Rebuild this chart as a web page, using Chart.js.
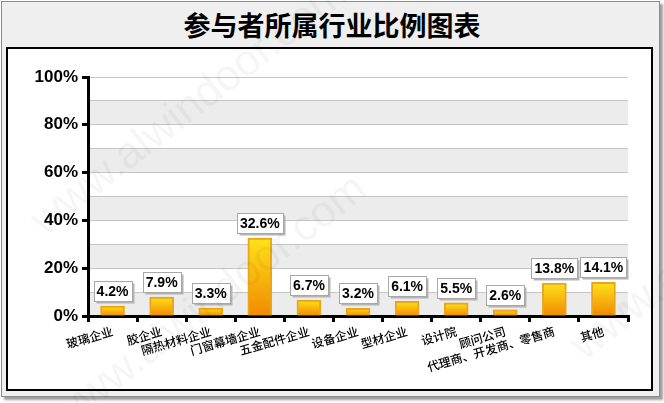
<!DOCTYPE html>
<html>
<head>
<meta charset="utf-8">
<script src="https://cdn.jsdelivr.net/npm/chart.js@4"></script>
<style>
  html, body { margin: 0; padding: 0; background: #fff; }
  body { width: 664px; height: 403px; position: relative; overflow: hidden; }
  #panel {
    position: absolute; left: 1px; top: 1px; width: 657px; height: 394px;
    background: #efefef; border: 1px solid #8c8c8c;
    box-shadow: 3px 3px 2px #a0a0a0;
  }
  #title {
    position: absolute; left: 0; top: 8px; width: 664px; text-align: center;
    font: bold 27px "Noto Sans CJK SC", sans-serif; line-height: 34px; color: #000;
  }
  #box {
    position: absolute; left: 6px; top: 47px; width: 643px; height: 340px;
    background: #fff; border: 2px solid #000;
  }
  #wrap { position: absolute; left: 0; top: 0; width: 643px; height: 340px; }
  .wm {
    position: absolute; font: 44px "Liberation Sans", Arial, sans-serif;
    color: rgba(0,0,0,0.04); transform-origin: 0 0; transform: rotate(-38deg);
    white-space: nowrap; pointer-events: none;
  }
</style>
</head>
<body>
<div id="panel"></div>
<div id="title">参与者所属行业比例图表</div>
<div id="box"><div id="wrap"><canvas id="barChart"></canvas></div></div>
<div class="wm" style="left:20px; top:205px;">www.alwindoor.com</div>
<div class="wm" style="left:40px; top:400px;">www.alwindoor.com</div>
<div class="wm" style="left:560px; top:330px;">www.alwindoor.com</div>
<script>
const categories = ['玻璃企业', '胶企业', '隔热材料企业', '门窗幕墙企业', '五金配件企业', '设备企业',
  '型材企业', '设计院', '顾问公司', '代理商、开发商、零售商', '其他'];
const shares = [4.2, 7.9, 3.3, 32.6, 6.7, 3.2, 6.1, 5.5, 2.6, 13.8, 14.1];
const yTicks = [0, 20, 40, 60, 80, 100];
const bands = [[0, 10], [20, 30], [40, 50], [60, 70], [80, 90]];

// gray bands behind the grid
const bandPlugin = {
  id: 'bands',
  beforeDraw(chart) {
    const { ctx, chartArea: a, scales: { y } } = chart;
    ctx.save();
    ctx.fillStyle = '#ececec';
    bands.forEach(([lo, hi]) => {
      const top = y.getPixelForValue(hi), bot = y.getPixelForValue(lo);
      ctx.fillRect(a.left, top, a.right - a.left, bot - top);
    });
    ctx.restore();
  }
};

// white boxes with the value above each bar
const labelPlugin = {
  id: 'valueBoxes',
  afterDatasetsDraw(chart) {
    const { ctx } = chart;
    const meta = chart.getDatasetMeta(0);
    ctx.save();
    ctx.font = 'bold 14px "Liberation Sans", Arial, sans-serif';
    ctx.textAlign = 'center';
    ctx.textBaseline = 'middle';
    meta.data.forEach((bar, i) => {
      const txt = shares[i].toFixed(1) + '%';
      const w = Math.round(ctx.measureText(txt).width) + 6;
      const h = 20;
      const x = Math.round(bar.x - w / 2) + 0.5;
      const yb = Math.round(bar.y - 5) + 0.5;
      ctx.fillStyle = '#b4b4b4';
      ctx.fillRect(x + 2, yb - h + 2, w, h);
      ctx.fillStyle = '#fff';
      ctx.fillRect(x, yb - h, w, h);
      ctx.strokeStyle = '#a8a8a8';
      ctx.lineWidth = 1;
      ctx.strokeRect(x, yb - h, w, h);
      ctx.fillStyle = '#000';
      ctx.fillText(txt, bar.x, yb - h / 2 + 1);
    });
    ctx.restore();
  }
};

function barFill(c) {
  const chart = c.chart;
  if (!chart.chartArea || c.dataIndex === undefined) return '#f5b400';
  const y = chart.scales.y;
  const top = y.getPixelForValue(shares[c.dataIndex]);
  const bot = y.getPixelForValue(0);
  const g = chart.ctx.createLinearGradient(0, top, 0, bot);
  g.addColorStop(0, '#ffe21a');
  g.addColorStop(1, '#f08a00');
  return g;
}

new Chart(document.getElementById('barChart'), {
  type: 'bar',
  data: {
    labels: categories,
    datasets: [{
      data: shares,
      backgroundColor: barFill,
      borderColor: '#eaa51a',
      borderWidth: 2,
      borderSkipped: 'bottom',
      barThickness: 24
    }]
  },
  options: {
    responsive: true,
    maintainAspectRatio: false,
    animation: false,
    layout: { padding: { top: 28, right: 23, left: 0, bottom: 0 } },
    plugins: { legend: { display: false }, tooltip: { enabled: false } },
    scales: {
      x: {
        grid: { offset: true, drawOnChartArea: false, color: '#000', lineWidth: 3, tickLength: 6 },
        border: { color: '#000', width: 3 },
        ticks: {
          autoSkip: false, maxRotation: 16, minRotation: 16, padding: 2, color: '#000',
          font: { family: '"Noto Sans CJK SC", sans-serif', size: 12, weight: 500 }
        },
        afterFit(s) { s.height = 73; }
      },
      y: {
        min: 0, max: 100,
        grid: {
          color: c => c.tick && c.tick.value === 0 ? 'transparent' : '#c6c6c6',
          lineWidth: 1,
          tickLength: 6,
          tickWidth: 3,
          tickColor: c => yTicks.includes(c.tick && c.tick.value) ? '#000' : 'transparent'
        },
        border: { color: '#000', width: 3 },
        ticks: {
          stepSize: 10, padding: 4, color: '#000',
          font: { family: '"Liberation Sans", Arial, sans-serif', size: 17, weight: 'bold' },
          callback: v => yTicks.includes(v) ? v + '%' : ''
        },
        afterFit(s) { s.width = 80; }
      }
    }
  },
  plugins: [bandPlugin, labelPlugin]
});
</script>
</body>
</html>
